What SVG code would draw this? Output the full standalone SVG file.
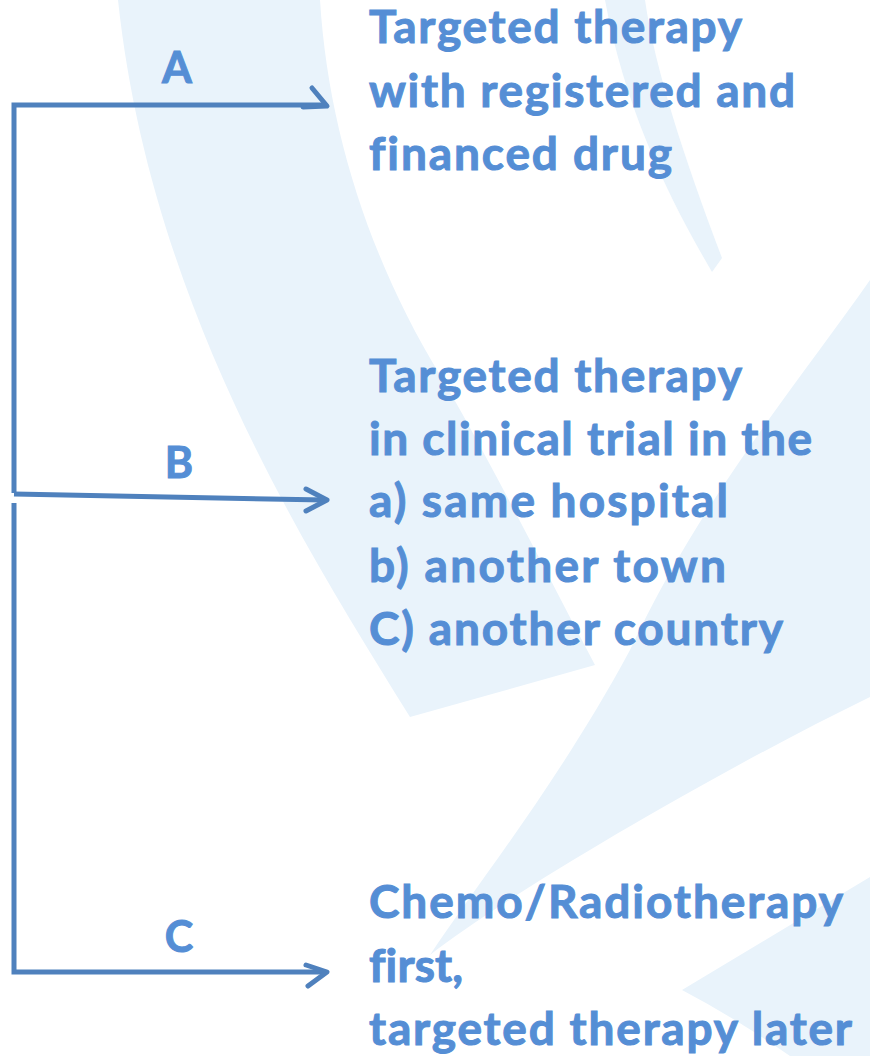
<svg xmlns="http://www.w3.org/2000/svg" width="870" height="1056" viewBox="0 0 870 1056">
  <defs>
    <style>
      .bg { fill: #E9F3FB; stroke: none; }
      .conn { fill: none; stroke: #4F81BD; stroke-width: 5; stroke-linejoin: miter; }
      .head { fill: none; stroke: #4F81BD; stroke-width: 5; stroke-linecap: round; stroke-linejoin: round; }
      .t { font-family: Lato, "Open Sans", "Liberation Sans", sans-serif; font-weight: bold; font-size: 46px; fill: #558ED5; stroke: #558ED5; stroke-width: 1; font-variant-ligatures: none; }
      .lbl { font-family: Lato, "Open Sans", "Liberation Sans", sans-serif; font-weight: bold; font-size: 43px; fill: #558ED5; stroke: #558ED5; stroke-width: 1; text-anchor: middle; }
    </style>
  </defs>
  <rect x="0" y="0" width="870" height="1056" fill="#FFFFFF"/>
  <g id="background">
    <path class="bg" d="M118,0 L320,0 C328,130 370,260 440,375 C490,460 550,580 595,665 L410,717 C300,540 150,300 118,0 Z"/>
    <path class="bg" d="M605,0 L645,0 C655,70 685,160 722,258 L712,272 C670,200 625,110 605,0 Z"/>
    <path class="bg" d="M870,280 C800,380 700,500 630,650 C560,780 480,880 430,955 C500,900 700,780 870,697 Z"/>
    <path class="bg" d="M870,877 L682,990 C720,1010 760,1035 790,1056 L870,1056 Z"/>
  </g>
  <g id="connectors">
    <path class="conn" d="M327,105 L14,105 L14,493"/>
    <path class="conn" d="M14,494 L325,500"/>
    <path class="conn" d="M14,503 L14,972 L325,972"/>
    <path class="head" d="M312,88 L327,106 L303,107"/>
    <path class="head" d="M306,489 L327,500 L306,511"/>
    <path class="head" d="M306,965 L327,972 L308,986"/>
    <text class="lbl" x="177" y="83">A</text>
    <text class="lbl" x="179" y="478">B</text>
    <text class="lbl" x="179" y="952">C</text>
  </g>
  <g id="node-A">
    <text class="t" x="369" y="43" textLength="373">Targeted therapy</text>
    <text class="t" x="369" y="107" textLength="426">with registered and</text>
    <text class="t" x="369" y="170" textLength="303">financed drug</text>
  </g>
  <g id="node-B">
    <text class="t" x="369" y="392" textLength="373">Targeted therapy</text>
    <text class="t" x="369" y="455" textLength="443">in clinical trial in the</text>
    <text class="t" x="369" y="517" textLength="359">a) same hospital</text>
    <text class="t" x="369" y="582" textLength="357">b) another town</text>
    <text class="t" x="369" y="645" textLength="414">C) another country</text>
  </g>
  <g id="node-C">
    <text class="t" x="369" y="918" textLength="474">Chemo/Radiotherapy</text>
    <text class="t" x="369" y="982" textLength="94">first,</text>
    <text class="t" x="369" y="1045" textLength="483">targeted therapy later</text>
  </g>
</svg>
